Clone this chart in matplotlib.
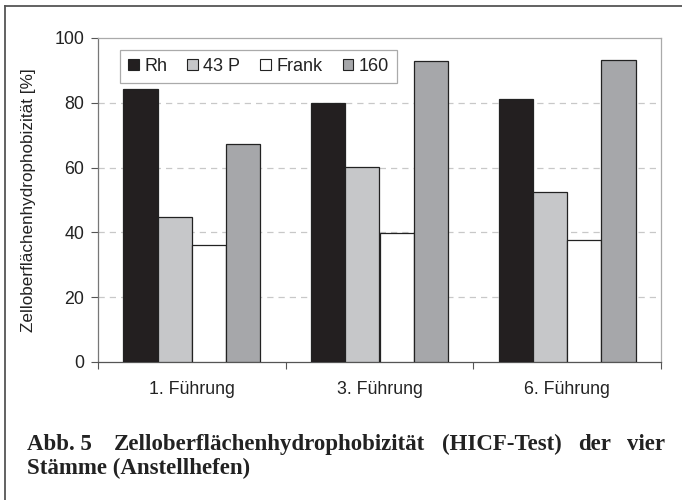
import matplotlib.pyplot as plt
import numpy as np
from matplotlib.lines import Line2D
from matplotlib.patches import Patch

fuehrungen = ["1. Führung", "3. Führung", "6. Führung"]
staemme = ["Rh", "43 P", "Frank", "160"]
rh = [84.3, 79.8, 81.2]
p43 = [44.9, 60.3, 52.4]
frank = [36.1, 39.9, 37.6]
s160 = [67.4, 92.8, 93.3]

werte = [rh, p43, frank, s160]
farben = ['#231f20', '#c6c7c9', '#ffffff', '#a6a7aa']

plt.rcParams['font.family'] = ['Liberation Sans', 'DejaVu Sans']

fig = plt.figure(figsize=(6.82, 5.0), dpi=100)
ax = fig.add_axes([98/682, 1-362/500, 563/682, 324/500])

x = np.arange(len(fuehrungen))
breite = 0.1825
for i, (w, c) in enumerate(zip(werte, farben)):
    ax.bar(x + (i - 1.5)*breite, w, width=breite, color=c,
           edgecolor='#222222', linewidth=0.9, zorder=3)

ax.set_xlim(-0.5, 2.5)
ax.set_ylim(0, 100)
ax.set_yticks(np.arange(0, 101, 20))
ax.set_xticks(x)
ax.set_xticklabels(fuehrungen, fontsize=12.8, color='#222222')
ax.set_xticks([-0.5, 0.5, 1.5, 2.5], minor=True)
ax.tick_params(axis='x', which='major', length=0, pad=14)
ax.tick_params(axis='x', which='minor', length=5, color='#555555', width=0.8)
ax.tick_params(axis='y', length=5, color='#555555', width=0.8, labelsize=12.8,
               labelcolor='#222222', pad=5)

for yg in [20, 40, 60, 80]:
    ax.axhline(yg, color='#c8c8c8', linestyle=(0, (5, 4)), linewidth=0.9, zorder=1)

ax.spines['left'].set_color('#777777')
ax.spines['bottom'].set_color('#555555')
ax.spines['top'].set_color('#aaaaaa')
ax.spines['right'].set_color('#aaaaaa')
for s in ax.spines.values():
    s.set_linewidth(0.9)

ax.set_ylabel("Zelloberflächenhydrophobizität [%]", fontsize=12.3, color='#222222')
ax.yaxis.set_label_coords(-62/563, 0.5)

handles = [Patch(facecolor=c, edgecolor='#222222', linewidth=0.8) for c in farben]
leg = ax.legend(handles, staemme, ncol=4, loc='upper left',
                bbox_to_anchor=(0.039, 0.963), fontsize=13, frameon=True,
                fancybox=False, edgecolor='#aaaaaa', framealpha=1,
                handlelength=0.6, handleheight=0.6, handletextpad=0.3,
                columnspacing=1.1, borderpad=0.45, borderaxespad=0)
leg.get_frame().set_linewidth(0.9)
for t in leg.get_texts():
    t.set_color('#222222')

# Rahmen oben und links
fig.add_artist(Line2D([5/682, 1], [1-6/500, 1-6/500], color='#555555', linewidth=1.3))
fig.add_artist(Line2D([5/682, 5/682], [0, 1-6/500], color='#555555', linewidth=1.3))

# Bildunterschrift, Blocksatz in der ersten Zeile
serif = ['Liberation Serif', 'DejaVu Serif']
cap_kw = dict(fontsize=16.5, fontweight='bold', family=serif, color='#222222',
              va='baseline')
zeile1 = ["Abb. 5 ", "Zelloberflächenhydrophobizität", "(HICF-Test)", "der", "vier"]
x0, x1 = 27/682, 665/682
y1, y2 = 1-450/500, 1-474/500
fig.canvas.draw()
renderer = fig.canvas.get_renderer()
texte = [fig.text(0, y1, w, **cap_kw) for w in zeile1]
breiten = [t.get_window_extent(renderer).width/682 for t in texte]
luecke = (x1 - x0 - sum(breiten)) / (len(zeile1) - 1)
pos = x0
for t, b in zip(texte, breiten):
    t.set_x(pos)
    pos += b + luecke
fig.text(x0, y2, "Stämme (Anstellhefen)", **cap_kw)

fig.savefig("out.png", dpi=100)
